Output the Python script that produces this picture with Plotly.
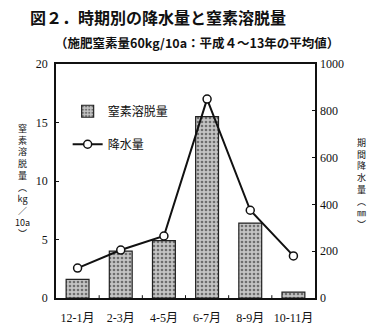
import plotly.graph_objects as go

# Period labels (two-month intervals)
periods = ["12-1月", "2-3月", "4-5月", "6-7月", "8-9月", "10-11月"]
# Nitrogen leaching (kg/10a) per period
nitrogen_leached = [1.6, 4.0, 4.9, 15.5, 6.4, 0.5]
# Precipitation during the period (mm)
precipitation = [128, 205, 265, 850, 375, 180]

left_ticks = [0, 5, 10, 15, 20]
right_ticks = [0, 200, 400, 600, 800, 1000]

# Vertical axis titles, one glyph (or short run) per row
left_title = ["窒", "素", "溶", "脱", "量", "︵", "kg", "／", "10a", "︶"]
right_title = ["期", "間", "降", "水", "量", "︵", "㎜", "︶"]

serif = "Liberation Serif, Times New Roman, Noto Sans CJK JP, serif"
cjk = "Noto Sans CJK JP, sans-serif"

fig = go.Figure()

fig.add_trace(go.Bar(
    x=periods, y=nitrogen_leached, name="窒素溶脱量",
    width=0.53,
    marker=dict(
        color="#b4b4b4",
        line=dict(color="#222222", width=1.2),
        pattern=dict(shape=".", fgcolor="#6e6e6e", bgcolor="#c4c4c4",
                     size=4, solidity=0.35, fillmode="replace"),
    ),
    legendgroup="a",
    yaxis="y",
))

fig.add_trace(go.Scatter(
    x=periods, y=precipitation, name="降水量",
    mode="lines+markers",
    line=dict(color="#111111", width=2),
    marker=dict(symbol="circle", size=8, color="white",
                line=dict(color="#111111", width=1.5)),
    legendgroup="b",
    yaxis="y2",
))

annotations = [
    dict(text="<b>図２．時期別の降水量と窒素溶脱量</b>",
         xref="paper", yref="paper", x=-0.11, y=1.20,
         xanchor="left", yanchor="middle", showarrow=False,
         font=dict(family=cjk, size=16, color="#111111")),
    dict(text="<b>（施肥窒素量60kg/10a：平成４～13年の平均値）</b>",
         xref="paper", yref="paper", x=-0.01, y=1.094,
         xanchor="left", yanchor="middle", showarrow=False,
         font=dict(family=cjk, size=12.5, color="#111111")),
    dict(text="<br>".join(left_title),
         xref="paper", yref="paper", x=-0.131, y=0.50,
         xanchor="center", yanchor="middle", showarrow=False,
         font=dict(family=cjk, size=9, color="#111111")),
    dict(text="<br>".join(right_title),
         xref="paper", yref="paper", x=1.18, y=0.49,
         xanchor="center", yanchor="middle", showarrow=False,
         font=dict(family=cjk, size=9, color="#111111")),
]

fig.update_layout(
    width=376, height=326,
    margin=dict(l=56, r=61, t=64, b=28),
    paper_bgcolor="white", plot_bgcolor="white",
    showlegend=True,
    legend=dict(
        x=0.045, y=0.86, xanchor="left", yanchor="top",
        bgcolor="rgba(0,0,0,0)", borderwidth=0,
        font=dict(family=cjk, size=12, color="#111111"),
        tracegroupgap=14, itemwidth=30,
    ),
    bargap=0.47,
    xaxis=dict(
        type="category", automargin=False,
        showline=True, linecolor="#111111", linewidth=1.5, mirror=True,
        ticks="", ticklabelstandoff=8,
        tickfont=dict(family=serif, size=12, color="#111111"),
        showgrid=False,
    ),
    yaxis=dict(
        range=[0, 20], tickvals=left_ticks, automargin=False,
        showline=True, linecolor="#111111", linewidth=1.5, mirror=True,
        ticks="inside", ticklen=3, tickcolor="#111111",
        ticklabelstandoff=4,
        tickfont=dict(family=serif, size=12, color="#111111"),
        showgrid=False, zeroline=False,
    ),
    yaxis2=dict(
        range=[0, 1000], tickvals=right_ticks, automargin=False,
        overlaying="y", side="right",
        showline=False,
        ticks="inside", ticklen=3, tickcolor="#111111",
        ticklabelstandoff=4,
        tickfont=dict(family=serif, size=12, color="#111111"),
        showgrid=False, zeroline=False,
    ),
    annotations=annotations,
)

# small category-separator ticks along the bottom edge
for i in range(1, len(periods)):
    fig.add_shape(type="line", xref="x", yref="paper",
                  x0=i - 0.5, x1=i - 0.5, y0=0, y1=0.012,
                  line=dict(color="#111111", width=1))

fig.write_html("out.html")
